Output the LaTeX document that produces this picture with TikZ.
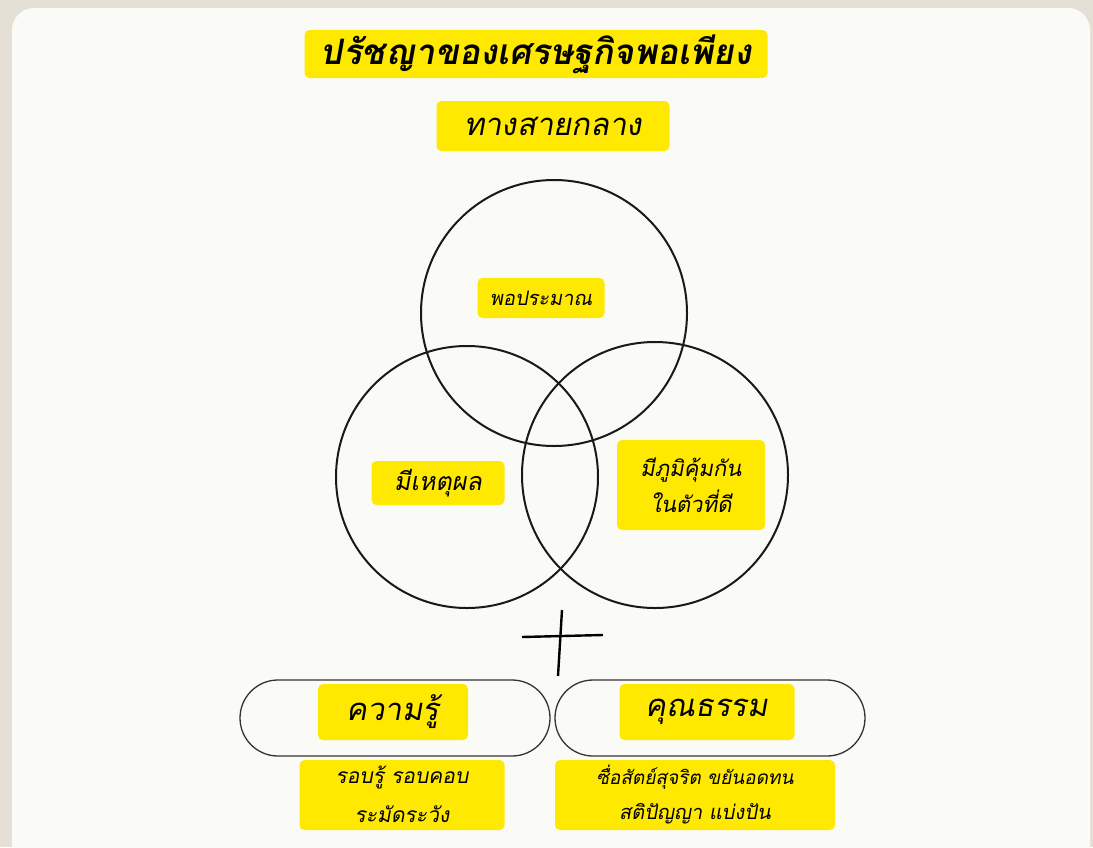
\documentclass[tikz,border=0pt]{standalone}
\usepackage{fontspec}
\newfontfamily\thaifont[Script=Thai,FakeSlant=0.18]{Loma}
\usepackage{tikz}
\usetikzlibrary{positioning}

\definecolor{paper}{HTML}{E5E0D6}
\definecolor{card}{HTML}{FAFAF7}
\definecolor{marker}{HTML}{FFE900}

\tikzset{
  hilite/.style={fill=marker, rounded corners=5pt, inner sep=0pt, align=center, font=\thaifont},
  ring/.style={draw=black!90, line width=2pt},
  pill/.style={draw=black!80, line width=1.3pt, rounded corners=38pt, minimum width=310pt, minimum height=76pt},
  listline/.style={inner sep=0pt, font=\thaifont\fontsize{20}{22}\selectfont},
}

\begin{document}
\begin{tikzpicture}[x=1pt, y=-1pt]
\useasboundingbox (0,0) rectangle (1093,847);
\fill[paper] (0,0) rectangle (1093,847);
\fill[card, rounded corners=22pt] (12,8) rectangle (1090,870);

% heading
\node[hilite, minimum width=463pt, minimum height=48pt, font=\thaifont\fontsize{35}{36}\selectfont\bfseries] (title) at (536,54) {ปรัชญาของเศรษฐกิจพอเพียง};
\node[hilite, minimum width=233pt, minimum height=50pt, font=\thaifont\fontsize{31}{32}\selectfont] (middle) at (553,126) {ทางสายกลาง};

% three rings
\draw[ring] (554,313) circle (133);
\draw[ring] (467,477) circle (131);
\draw[ring] (655,475) circle (133);

\node[hilite, minimum width=127pt, minimum height=40pt, font=\thaifont\fontsize{20}{22}\selectfont] (moderate) at (541,298) {พอประมาณ};
\node[hilite, minimum width=133pt, minimum height=44pt, font=\thaifont\fontsize{25}{26}\selectfont] (reason) at (438,483) {มีเหตุผล};
\node[hilite, minimum width=148pt, minimum height=90pt, font=\thaifont\fontsize{22}{36}\selectfont] (immune) at (691,485) {มีภูมิคุ้มกัน\\ในตัวที่ดี};

% plus sign
\draw[line width=2.4pt] (522,637) -- (603,635);
\draw[line width=2.4pt] (562,610) -- (558,676);

% two conditions
\node[pill] (knowpill) at (395,718) {};
\node[pill] (virtuepill) at (710,718) {};
\node[hilite, minimum width=150pt, minimum height=56pt, font=\thaifont\fontsize{31}{32}\selectfont] (know) at (393,712) {ความรู้};
\node[hilite, minimum width=175pt, minimum height=56pt, font=\thaifont\fontsize{31}{32}\selectfont] (virtue) at (707,712) {คุณธรรม};

% what each one asks for
\node[hilite, minimum width=205pt, minimum height=70pt] (knowlist) at (402,795) {};
\node[listline, font=\thaifont\fontsize{21}{22}\selectfont] (knowa) at (402,777) {รอบรู้ รอบคอบ};
\node[listline, font=\thaifont\fontsize{21}{22}\selectfont] (knowb) at (402,814) {ระมัดระวัง};
\node[hilite, minimum width=280pt, minimum height=70pt] (virtuelist) at (695,795) {};
\node[listline, font=\thaifont\fontsize{19}{22}\selectfont] (virtuea) at (695,777) {ซื่อสัตย์สุจริต ขยันอดทน};
\node[listline] (virtueb) at (695,814) {สติปัญญา แบ่งปัน};
\end{tikzpicture}
\end{document}
